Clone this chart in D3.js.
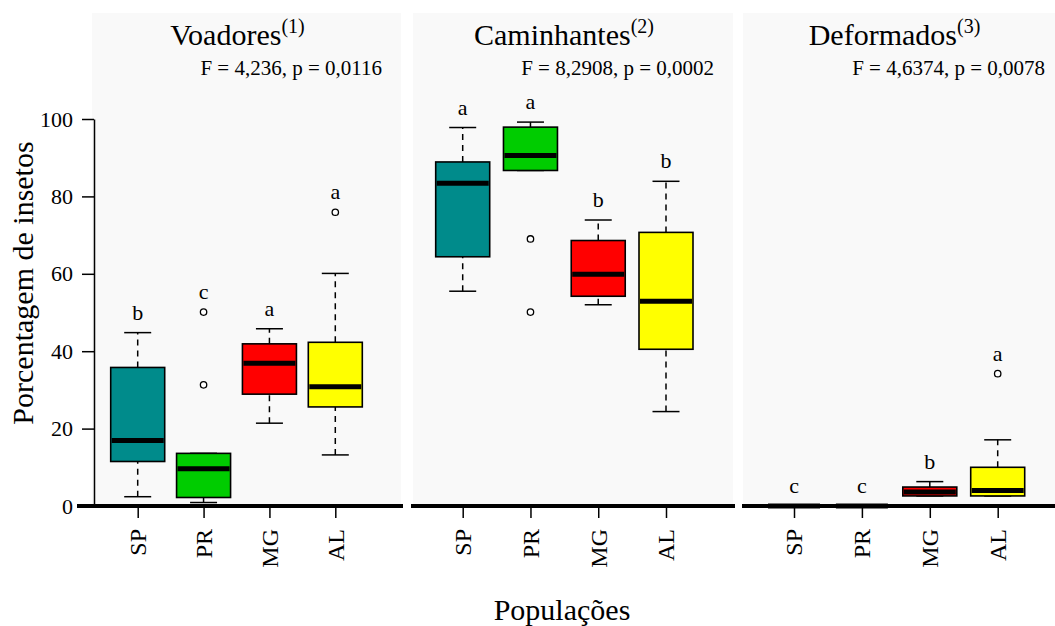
<!DOCTYPE html>
<head>
    <meta charset="UTF-8">
    <script src="https://cdnjs.cloudflare.com/ajax/libs/d3/7.8.5/d3.min.js"></script>
    <style>
        body { margin: 0; background: #fff; }
        svg text { font-family: "Liberation Serif", "Times New Roman", serif; fill: #000; }
    </style>
</head>
<body>
    <svg id="chart"></svg>

    <script>
        //********** DATOS *********************
        var grupos = ["SP", "PR", "MG", "AL"];
        var paineis = ["Voadores", "Caminhantes", "Deformados"];
        var indices = ["(1)", "(2)", "(3)"];
        var estatisticas = ["F = 4,236, p = 0,0116", "F = 8,2908, p = 0,0002", "F = 4,6374, p = 0,0078"];
        var cores = ["#008b8b", "#00cc00", "#ff0000", "#ffff00"];
        var yTicks = [0, 20, 40, 60, 80, 100];

        // [bigode inferior, Q1, mediana, Q3, bigode superior]
        var voadores = [[2.4, 11.5, 16.9, 35.8, 44.8], [0.9, 2.2, 9.6, 13.6, 13.6], [21.4, 28.9, 36.9, 41.9, 45.8], [13.2, 25.6, 30.8, 42.3, 60.1]];
        var voadoresOut = [[], [50.1, 31.3], [], [75.9]];
        var voadoresLetras = ["b", "c", "a", "a"];

        var caminhantes = [[55.5, 64.4, 83.4, 88.9, 97.8], [86.7, 86.7, 90.6, 97.9, 99.2], [52.0, 54.2, 59.9, 68.6, 73.9], [24.4, 40.5, 52.9, 70.7, 83.9]];
        var caminhantesOut = [[], [69.0, 50.1], [], []];
        var caminhantesLetras = ["a", "a", "b", "b"];

        var deformados = [[0, 0, 0, 0, 0], [0, 0, 0, 0, 0], [2.6, 2.6, 3.6, 4.9, 6.3], [2.6, 2.6, 4.0, 10.0, 17.1]];
        var deformadosOut = [[], [], [], [34.2]];
        var deformadosLetras = ["c", "c", "b", "a"];

        //********** DEFINICIONES *********************
        var width = 1055, height = 626;
        var top0 = 13, baseY = 506, topY = 119;
        var boxW = 54;

        // posición de cada panel: fondo y centros de la primera/última caja
        var layout = [
            { x0: 92, x1: 401, c0: 137.7, c1: 335.3, base0: 77, base1: 403 },
            { x0: 413, x1: 733, c0: 462.7, c1: 666, base0: 411, base1: 735 },
            { x0: 743, x1: 1064, c0: 794, c1: 997.7, base0: 742, base1: 1055 }
        ];

        var dados = [
            { stats: voadores, out: voadoresOut, letras: voadoresLetras },
            { stats: caminhantes, out: caminhantesOut, letras: caminhantesLetras },
            { stats: deformados, out: deformadosOut, letras: deformadosLetras }
        ];

        var y = d3.scaleLinear().domain([0, 100]).range([baseY, topY]);
        var color = d3.scaleOrdinal().domain(grupos).range(cores);

        var svg = d3.select("#chart")
            .attr("width", width)
            .attr("height", height);

        //********** PANELES *********************
        paineis.forEach(function (nome, p) {
            var L = layout[p];
            var D = dados[p];
            var x = d3.scalePoint().domain(grupos).range([L.c0, L.c1]);

            var g = svg.append("g");

            g.append("rect")
                .attr("x", L.x0).attr("y", top0)
                .attr("width", L.x1 - L.x0).attr("height", baseY - top0)
                .attr("fill", "#f9f9f9");

            // título con superíndice
            var cx = (L.x0 + L.x1) / 2 - 9;
            var t = g.append("text")
                .attr("x", cx).attr("y", 45)
                .attr("text-anchor", "middle")
                .style("font-size", "30px")
                .text(nome);
            t.append("tspan")
                .attr("dy", -12)
                .style("font-size", "20px")
                .text(indices[p]);

            g.append("text")
                .attr("x", L.x1 - 19).attr("y", 75)
                .attr("text-anchor", "end")
                .style("font-size", "21px")
                .text(estatisticas[p]);

            var cajas = g.selectAll("g.caja")
                .data(grupos.map(function (k, i) {
                    return { grupo: k, s: D.stats[i], out: D.out[i], letra: D.letras[i] };
                }))
                .enter().append("g")
                .attr("class", "caja")
                .attr("transform", function (d) { return "translate(" + x(d.grupo) + ",0)"; });

            // bigodes
            cajas.append("line")
                .attr("y1", function (d) { return y(d.s[0]); })
                .attr("y2", function (d) { return y(d.s[1]); })
                .attr("stroke", "#000").attr("stroke-width", 1.5)
                .attr("stroke-dasharray", "6,5");
            cajas.append("line")
                .attr("y1", function (d) { return y(d.s[3]); })
                .attr("y2", function (d) { return y(d.s[4]); })
                .attr("stroke", "#000").attr("stroke-width", 1.5)
                .attr("stroke-dasharray", "6,5");
            [0, 4].forEach(function (k) {
                cajas.append("line")
                    .attr("x1", -boxW / 4).attr("x2", boxW / 4)
                    .attr("y1", function (d) { return y(d.s[k]); })
                    .attr("y2", function (d) { return y(d.s[k]); })
                    .attr("stroke", "#000").attr("stroke-width", 1.5);
            });

            cajas.append("rect")
                .attr("x", -boxW / 2).attr("width", boxW)
                .attr("y", function (d) { return y(d.s[3]); })
                .attr("height", function (d) { return y(d.s[1]) - y(d.s[3]); })
                .attr("fill", function (d) { return color(d.grupo); })
                .attr("stroke", "#000").attr("stroke-width", 1.6);

            cajas.append("line")
                .attr("x1", -boxW / 2 + 1).attr("x2", boxW / 2 - 1)
                .attr("y1", function (d) { return y(d.s[2]); })
                .attr("y2", function (d) { return y(d.s[2]); })
                .attr("stroke", "#000").attr("stroke-width", 5);

            cajas.selectAll("circle")
                .data(function (d) { return d.out; })
                .enter().append("circle")
                .attr("cy", function (v) { return y(v); })
                .attr("r", 3.2)
                .attr("fill", "#fff").attr("stroke", "#000").attr("stroke-width", 1.3);

            cajas.append("text")
                .attr("y", function (d) { return y(d3.max(d.out.concat([d.s[4]]))) - 13; })
                .attr("text-anchor", "middle")
                .style("font-size", "22px")
                .text(function (d) { return d.letra; });

            // línea base y marcas del eje x
            g.append("line")
                .attr("x1", L.base0).attr("x2", L.base1)
                .attr("y1", baseY).attr("y2", baseY)
                .attr("stroke", "#000").attr("stroke-width", 4);

            var xAxis = g.append("g")
                .attr("transform", "translate(0," + baseY + ")")
                .call(d3.axisBottom(x).tickSize(12).tickSizeOuter(0).tickFormat(""));
            xAxis.select(".domain").remove();
            xAxis.selectAll(".tick line").attr("stroke", "#000").attr("stroke-width", 1.5);

            g.selectAll("text.grupo")
                .data(grupos)
                .enter().append("text")
                .attr("class", "grupo")
                .attr("transform", function (d) { return "translate(" + x(d) + ",529) rotate(-90)"; })
                .attr("text-anchor", "end")
                .attr("dy", "0.35em")
                .style("font-size", "24px")
                .text(function (d) { return d; });
        });

        //********** EJE Y *********************
        var yAxis = svg.append("g")
            .attr("transform", "translate(94,0)")
            .call(d3.axisLeft(y).tickValues(yTicks).tickSize(12).tickSizeOuter(0).tickPadding(9));
        yAxis.select(".domain").attr("stroke", "#000").attr("stroke-width", 1.5);
        yAxis.selectAll(".tick line").attr("stroke", "#000").attr("stroke-width", 1.5);
        yAxis.selectAll(".tick text")
            .style("font-size", "22px")
            .style("font-family", "'Liberation Serif', 'Times New Roman', serif");

        svg.append("text")
            .attr("transform", "translate(33,283) rotate(-90)")
            .attr("text-anchor", "middle")
            .style("font-size", "30px")
            .text("Porcentagem de insetos");

        svg.append("text")
            .attr("x", 562).attr("y", 620)
            .attr("text-anchor", "middle")
            .style("font-size", "30px")
            .text("Populações");
    </script>
</body>
